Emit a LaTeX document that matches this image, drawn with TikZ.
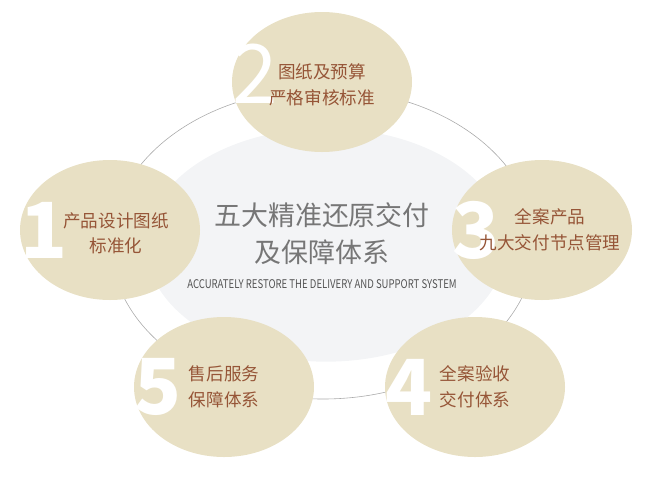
\documentclass[tikz,border=0pt]{standalone}
\usepackage{fontspec}
\setmainfont{Noto Sans CJK SC}
\newfontfamily\capsfont[FakeStretch=0.8]{Noto Sans CJK SC}
\usetikzlibrary{shapes.geometric, positioning}
\definecolor{petalbeige}{RGB}{232, 224, 196}
\definecolor{textbrown}{RGB}{150, 85, 55}
\definecolor{coregray}{RGB}{243, 244, 246}
\definecolor{titlegray}{RGB}{118, 118, 118}
\definecolor{ringgray}{RGB}{170, 170, 170}

\begin{document}
\begin{tikzpicture}[
    x=0.3mm, y=-0.3mm,
    petal/.style={ellipse, fill=petalbeige, minimum width=5.4cm, minimum height=4.2cm, inner sep=0pt},
    petaltext/.style={text=textbrown, font=\fontsize{15}{22}\selectfont, align=center, inner sep=0pt},
    numeral/.style={text=white, font=\fontsize{66}{66}\selectfont\bfseries, inner sep=0pt, anchor=west},
    ring/.style={draw=ringgray, line width=0.5pt},
]
    \useasboundingbox (0,0) rectangle (652,486);

    % Outer ring and centre
    \draw[ring] (323,244) ellipse [x radius=212, y radius=155];
    \node[ellipse, fill=coregray, minimum width=10.8cm, minimum height=7cm] (core) at (326,245) {};
    \node[text=titlegray, font=\fontsize{23}{31.5}\selectfont, align=center, inner sep=0pt] (title) at (322,234) {五大精准还原交付\\及保障体系};
    \node[text=titlegray!70!black, font=\capsfont\fontsize{10.2}{11}\selectfont, below=0.3cm of title] (subtitle) {ACCURATELY RESTORE THE DELIVERY AND SUPPORT SYSTEM};

    % Five petals
    \node[petal] (one) at (110,230) {};
    \node[petal] (two) at (322,82) {};
    \node[petal] (three) at (542,230) {};
    \node[petal] (four) at (475,387) {};
    \node[petal] (five) at (224,387) {};

    % Numbers
    \node[numeral] (numone) at (one.west) {1};
    \node[numeral, font=\fontsize{70}{70}\selectfont] (numtwo) at ([yshift=0.25cm]two.west) {2};
    \node[numeral] (numthree) at (three.west) {3};
    \node[numeral] (numfour) at (four.west) {4};
    \node[numeral] (numfive) at (five.west) {5};

    % Petal texts
    \node[petaltext] (txtone) at ([xshift=0.18cm, yshift=-0.1cm]one.center) {产品设计图纸\\标准化};
    \node[petaltext] (txttwo) at ([yshift=-0.08cm]two.center) {图纸及预算\\严格审核标准};
    \node[petaltext] (txtthree) at ([xshift=0.24cm]three.center) {全案产品\\九大交付节点管理};
    \node[petaltext] (txtfour) at (four.center) {全案验收\\交付体系};
    \node[petaltext] (txtfive) at (five.center) {售后服务\\保障体系};
\end{tikzpicture}
\end{document}
